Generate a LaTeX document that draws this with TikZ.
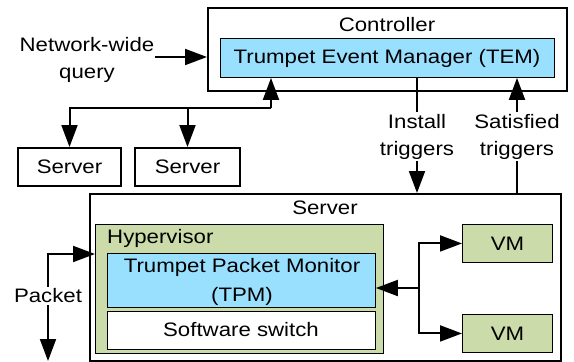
\documentclass[tikz,border=0pt]{standalone}
\usepackage{fontspec}
\setmainfont{Liberation Sans}[FakeStretch=1.14]
\usetikzlibrary{arrows.meta}
\definecolor{tblue}{RGB}{153,224,255}
\definecolor{tgreen}{RGB}{204,219,170}
\begin{document}
\begin{tikzpicture}[x=1pt,y=-1pt,
  every node/.style={font=\fontsize{19.5}{27}\selectfont},
  outerbox/.style={draw, line width=2pt, inner sep=0pt, anchor=north west},
  innerbox/.style={draw, line width=0.9pt, inner sep=0pt, anchor=north west},
  lbl/.style={inner sep=2pt, align=center},
  arr/.style={line width=2pt, -{Triangle[length=22pt,width=16pt]}},
  ln/.style={line width=2pt}]
\useasboundingbox (0,0) rectangle (574,362);
% Controller
\node[outerbox, minimum width=359pt, minimum height=83pt] (ctrl) at (207,7) {};
\node[lbl] (ctrltxt) at (387,25) {Controller};
\node[innerbox, fill=tblue, minimum width=334pt, minimum height=39pt] (tem) at (220,38) {};
\node[lbl] (temtxt) at (387,58) {Trumpet Event Manager (TEM)};
% network-wide query
\node[lbl] (nwq) at (87,60) {Network-wide\\query};
\coordinate (q) at (155,57);
\draw[arr] (q) -- (q -| ctrl.west);
% small servers
\node[outerbox, minimum width=103pt, minimum height=38pt] (s1) at (17,147) {};
\node[lbl] (s1txt) at (s1.center) {Server};
\node[outerbox, minimum width=105pt, minimum height=38pt] (s2) at (134,147) {};
\node[lbl] (s2txt) at (s2.center) {Server};
\coordinate (j) at (271,108);
\draw[arr] (j) -- (j |- tem.south);
\draw[arr] (j) -| (s1.north);
\draw[arr] (j -| s2.north) -- (s2.north);
% big server
\node[outerbox, minimum width=471pt, minimum height=167pt] (srv) at (89,193) {};
\node[lbl] (srvtxt) at (325,208) {Server};
\node[innerbox, fill=tgreen, minimum width=288pt, minimum height=129pt] (hyp) at (95,224) {};
\node[lbl, anchor=west] (hyptxt) at (105,238) {Hypervisor};
\node[innerbox, fill=tblue, minimum width=268pt, minimum height=54pt] (tpm) at (107,253) {};
\node[lbl, font=\fontsize{19.5}{29}\selectfont] (tpmtxt) at (242,282) {Trumpet Packet Monitor\\(TPM)};
\node[innerbox, fill=white, minimum width=268pt, minimum height=38pt] (sw) at (107,311) {};
\node[lbl] (swtxt) at (241,330) {Software switch};
\node[innerbox, fill=tgreen, minimum width=90pt, minimum height=38pt] (vm1) at (462,224) {};
\node[lbl] (vm1txt) at (vm1.center) {VM};
\node[innerbox, fill=tgreen, minimum width=90pt, minimum height=38pt] (vm2) at (462,314) {};
\node[lbl] (vm2txt) at (vm2.center) {VM};
% triggers
\node[lbl] (inst) at (417,136.5) {Install\\triggers};
\node[lbl] (sat) at (517,136.5) {Satisfied\\triggers};
\draw[ln] (inst.north |- tem.south) -- (inst.north);
\draw[arr] (inst.south) -- (inst.south |- srv.north);
\draw[arr] (sat.north) -- (sat.north |- tem.south);
\draw[ln] (sat.south) -- (sat.south |- srv.north);
% VM links
\coordinate (k) at (419,288);
\draw[arr] (k) -- (k -| tpm.east);
\draw[arr] (k) |- (vm1.west);
\draw[arr] (k) |- (vm2.west);
% packet
\node[lbl] (pkt) at (48,296) {Packet};
\coordinate (hin) at (95,254);
\coordinate (pout) at (48,361);
\draw[arr] (pkt.north) |- (hin);
\draw[arr] (pkt.south) -- (pout);
\end{tikzpicture}
\end{document}
